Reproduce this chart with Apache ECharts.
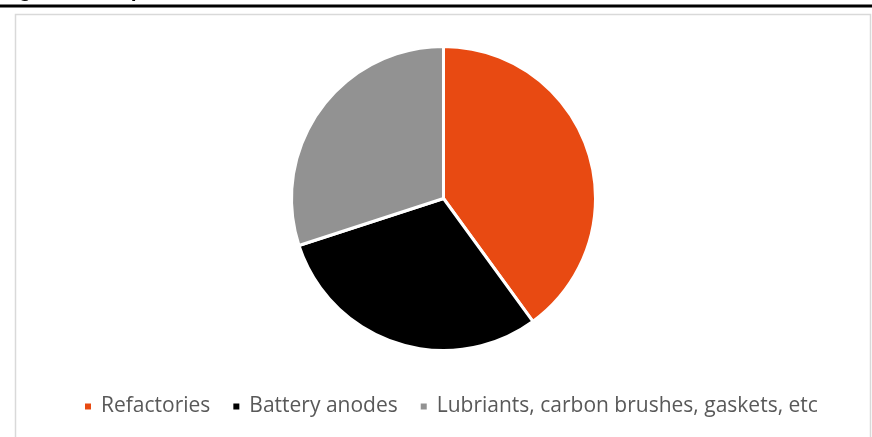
<!DOCTYPE html>
<html>
<head>
<meta charset="utf-8">
<script src="https://cdn.jsdelivr.net/npm/echarts@6/dist/echarts.min.js"></script>
<style>
  html, body { margin: 0; padding: 0; background: #ffffff; }
  #chart { width: 872px; height: 437px; }
</style>
</head>
<body>
<div id="chart"></div>
<script>
// End uses of graphite, share of total (%)
const categories = ['Refactories', 'Battery anodes', 'Lubriants, carbon brushes, gaskets, etc'];
const shares = [40, 30, 30];
const colors = ['#E84A12', '#000000', '#929292'];
const titleText = 'Figure 2: Graphite end-uses';

const chart = echarts.init(document.getElementById('chart'), null, { renderer: 'canvas' });

chart.setOption({
  backgroundColor: '#ffffff',
  animation: false,
  color: colors,
  graphic: [
    {
      type: 'text',
      left: 0,
      top: -19,
      style: {
        text: titleText,
        font: 'bold 21px "Liberation Sans", Arial, sans-serif',
        fill: '#000000'
      }
    },
    {
      type: 'line',
      shape: { x1: 0, y1: 6, x2: 872, y2: 6 },
      style: { stroke: '#000000', lineWidth: 3 }
    },
    {
      type: 'rect',
      shape: { x: 15.5, y: 14.5, width: 855, height: 440 },
      style: { fill: 'none', stroke: '#d9d9d9', lineWidth: 1.5 }
    }
  ],
  legend: {
    data: categories,
    left: 78,
    top: 391,
    icon: 'rect',
    itemWidth: 8,
    itemHeight: 8,
    itemGap: 21,
    textStyle: {
      color: '#595959',
      fontSize: 21,
      fontFamily: '"Open Sans", "Noto Sans", sans-serif',
      padding: [0, 0, 0, 4]
    }
  },
  series: [
    {
      type: 'pie',
      center: [443.5, 198.5],
      radius: [0, 152],
      startAngle: 90,
      clockwise: true,
      label: { show: false },
      labelLine: { show: false },
      emphasis: { disabled: true },
      itemStyle: { borderColor: '#ffffff', borderWidth: 3 },
      data: categories.map((name, i) => ({ name, value: shares[i] }))
    }
  ]
});
</script>
</body>
</html>
